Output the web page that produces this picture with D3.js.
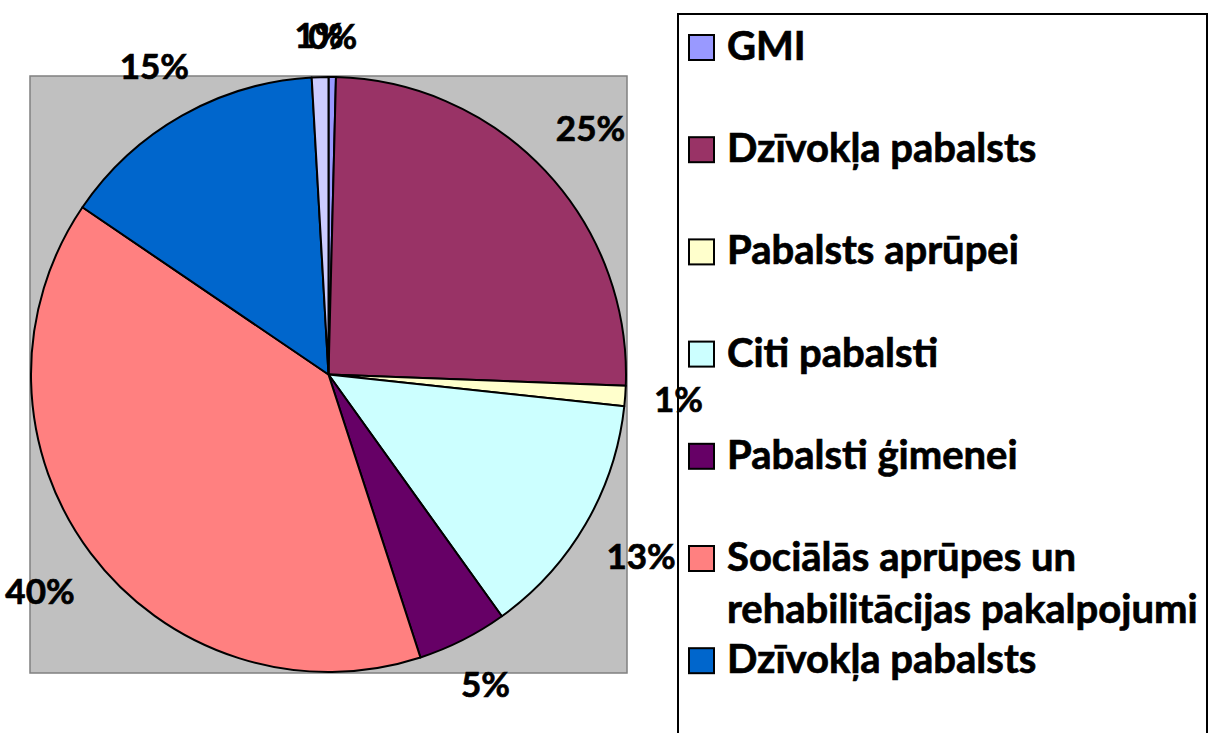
<!DOCTYPE html>
<html>
<head>
<meta charset="utf-8">
<script src="https://cdn.jsdelivr.net/npm/d3@7"></script>
<style>
  html, body { margin: 0; padding: 0; background: #fff; }
  svg { display: block; }
  text { font-family: Lato, "Open Sans", sans-serif; font-weight: 700; fill: #000; stroke: #000; stroke-width: 0.7px; }
</style>
</head>
<body>
<svg id="chart" width="1210" height="733"></svg>
<script>
// ---- data (shares in %) ----
const categories = [
  "GMI",
  "Dzīvokļa pabalsts",
  "Pabalsts aprūpei",
  "Citi pabalsti",
  "Pabalsti ģimenei",
  "Sociālās aprūpes un rehabilitācijas pakalpojumi",
  "Dzīvokļa pabalsts",
  "Pārējie"
];
const values = [0.4, 25.2, 1.1, 13.4, 4.9, 39.5, 14.6, 0.9];
const colors = ["#9999FF", "#993366", "#FFFFCC", "#CCFFFF", "#660066", "#FF8080", "#0066CC", "#CCCCFF"];
// legend line breaks
const legendLines = [
  ["GMI"],
  ["Dzīvokļa pabalsts"],
  ["Pabalsts aprūpei"],
  ["Citi pabalsti"],
  ["Pabalsti ģimenei"],
  ["Sociālās aprūpes un", "rehabilitācijas pakalpojumi"],
  ["Dzīvokļa pabalsts"],
  ["Pārējie"]
];

const W = 1210, H = 733;
const svg = d3.select("#chart");
const total = d3.sum(values);
const pct = d3.format(".0%");

// plot area
const plot = { x: 30, y: 76, w: 597, h: 597 };
svg.append("rect")
  .attr("x", plot.x).attr("y", plot.y).attr("width", plot.w).attr("height", plot.h)
  .attr("fill", "#C0C0C0").attr("stroke", "#808080").attr("stroke-width", 1.5);

const cx = plot.x + plot.w / 2, cy = plot.y + plot.h / 2;
const r = plot.w / 2 - 1;

const data = categories.map((c, i) => ({ name: c, value: values[i], color: colors[i], i }));
const pie = d3.pie().value(d => d.value).sort(null);
const arcs = pie(data);
const arc = d3.arc().innerRadius(0).outerRadius(r);

const g = svg.append("g").attr("transform", `translate(${cx},${cy})`);
g.selectAll("path.slice").data(arcs).join("path")
  .attr("class", "slice")
  .attr("d", arc)
  .attr("fill", d => d.data.color)
  .attr("stroke", "#000").attr("stroke-width", 2).attr("stroke-linejoin", "round");

// legend (drawn before the labels so the labels sit on top of it)
const legend = svg.append("g");
legend.append("rect")
  .attr("x", 678).attr("y", 14).attr("width", 529).attr("height", 760)
  .attr("fill", "#fff").attr("stroke", "#000").attr("stroke-width", 2);
const legSize = 40, step = 102.2, firstBase = 60, lineH = 52;
data.forEach((d, i) => {
  const base = firstBase + i * step;
  if (base - 30 > H) return; // entry falls below the visible area
  legend.append("rect")
    .attr("x", 689).attr("y", base - 25).attr("width", 25).attr("height", 25)
    .attr("fill", d.color).attr("stroke", "#000").attr("stroke-width", 2);
  legendLines[i].forEach((ln, j) => {
    legend.append("text")
      .attr("x", 727).attr("y", base + j * lineH)
      .attr("font-size", legSize)
      .text(ln);
  });
});

// percentage labels outside the pie
const labelSize = 35, capH = labelSize * 0.72, gap = 28;
const labels = svg.append("g");
arcs.forEach(d => {
  const a = (d.startAngle + d.endAngle) / 2;
  const t = labels.append("text")
    .attr("font-size", labelSize)
    .attr("text-anchor", "middle")
    .text(pct(d.data.value / total));
  const w = t.node().getComputedTextLength();
  const sx = Math.sin(a), sy = -Math.cos(a);
  const ext = Math.abs(sx) * w / 2 + Math.abs(sy) * capH / 2;
  const R = r + gap + ext;
  t.attr("x", cx + R * sx).attr("y", cy + R * sy + capH / 2);
});
</script>
</body>
</html>
